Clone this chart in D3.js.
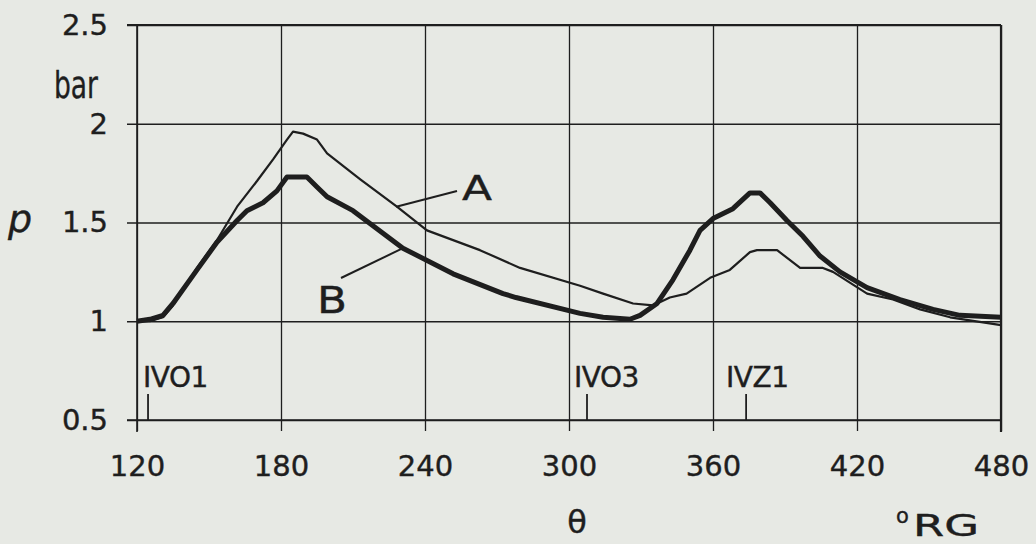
<!DOCTYPE html>
<html>
<head>
<meta charset="utf-8">
<script src="https://cdn.jsdelivr.net/npm/d3@7"></script>
<style>
  html, body { margin: 0; padding: 0; background: #e7e9e4; }
  svg { display: block; font-family: "DejaVu Sans", sans-serif; }
  svg text { stroke: #1e1e1e; stroke-width: 0.4px; }
</style>
</head>
<body>
<svg id="chart" width="1036" height="544"></svg>
<script>
// ---- data ----
const xTicks = [120, 180, 240, 300, 360, 420, 480];
const yTicks = [0.5, 1, 1.5, 2, 2.5];
const yTickLabels = ["0.5", "1", "1.5", "2", "2.5"];

const thetaA = [120, 125.4, 130.8, 135, 145, 153.3, 161.7, 170, 176.7, 182.5, 185, 189.2, 195, 199.2, 212.9, 228.3, 240.8, 262.9, 279.6, 304.6, 314.2, 326.7, 335, 342, 349, 358.8, 367, 375.4, 378.3, 386.7, 396.3, 405.8, 410, 424.2, 435, 446.3, 458.8, 480];
const pA     = [1.00, 1.00, 1.02, 1.08, 1.27, 1.41, 1.58, 1.71, 1.82, 1.92, 1.96, 1.95, 1.92, 1.85, 1.72, 1.58, 1.46, 1.36, 1.27, 1.18, 1.14, 1.09, 1.08, 1.12, 1.14, 1.22, 1.26, 1.35, 1.36, 1.36, 1.27, 1.27, 1.25, 1.14, 1.11, 1.06, 1.02, 0.98];

const thetaB = [120, 125.4, 130.8, 135, 145, 153.3, 161.7, 165.8, 172.5, 178.3, 182.5, 185, 190.8, 195, 199.2, 210, 230.8, 251.7, 272.5, 277.9, 304.6, 314.2, 325.4, 329.6, 336.7, 343.3, 350.4, 354.6, 360, 368.3, 375.4, 379.6, 383.8, 390.8, 397.5, 404.6, 412.9, 424.2, 437.9, 451.7, 462.9, 480];
const pB     = [1.00, 1.01, 1.03, 1.09, 1.26, 1.40, 1.51, 1.56, 1.60, 1.66, 1.73, 1.73, 1.73, 1.68, 1.63, 1.56, 1.37, 1.24, 1.14, 1.12, 1.04, 1.02, 1.01, 1.03, 1.09, 1.21, 1.36, 1.46, 1.52, 1.57, 1.65, 1.65, 1.60, 1.51, 1.43, 1.33, 1.25, 1.17, 1.11, 1.06, 1.03, 1.02];

const eventLabels = ["IVO1", "IVO3", "IVZ1"];
const eventTheta  = [124.6, 307.5, 373.8];

// ---- layout ----
const svg = d3.select("#chart");
svg.append("rect").attr("width", 1036).attr("height", 544).attr("fill", "#e7e9e4");

const x = d3.scaleLinear().domain([120, 480]).range([137, 1001]);
const y = d3.scaleLinear().domain([0.5, 2.5]).range([420, 25]);
const ink = "#1e1e1e";
const FONT = "DejaVu Sans, sans-serif";

// horizontal grid + y labels
const gy = svg.append("g")
  .attr("transform", "translate(127,0)")
  .call(d3.axisLeft(y).tickValues(yTicks)
    .tickFormat((d, i) => yTickLabels[i])
    .tickSizeInner(-(x(480) - 127)).tickSizeOuter(0).tickPadding(19));
gy.select(".domain").remove();
gy.selectAll("line").attr("stroke", ink).attr("stroke-width", 1.3);
gy.selectAll("text").attr("fill", ink).attr("font-size", 29).attr("font-family", FONT);

// vertical grid + x labels
const gx = svg.append("g")
  .attr("transform", "translate(0,431)")
  .call(d3.axisBottom(x).tickValues(xTicks)
    .tickSizeInner(-(431 - y(2.5))).tickSizeOuter(0).tickPadding(24));
gx.select(".domain").remove();
gx.selectAll("line").attr("stroke", ink).attr("stroke-width", 1.3);
gx.selectAll("text").attr("fill", ink).attr("font-size", 29).attr("font-family", FONT);

// frame (top & right heavier)
svg.append("line").attr("x1", 127).attr("x2", x(480)).attr("y1", y(2.5)).attr("y2", y(2.5))
  .attr("stroke", ink).attr("stroke-width", 2.2);
svg.append("line").attr("x1", x(480)).attr("x2", x(480)).attr("y1", y(2.5)).attr("y2", 432)
  .attr("stroke", ink).attr("stroke-width", 2.2);
svg.append("line").attr("x1", 127).attr("x2", x(480)).attr("y1", y(0.5)).attr("y2", y(0.5))
  .attr("stroke", ink).attr("stroke-width", 1.6);
svg.append("line").attr("x1", x(120)).attr("x2", x(120)).attr("y1", y(2.5)).attr("y2", 432)
  .attr("stroke", ink).attr("stroke-width", 1.6);

// curves
const line = d3.line().x(d => x(d[0])).y(d => y(d[1])).curve(d3.curveLinear);
svg.append("path").datum(d3.zip(thetaA, pA)).attr("d", line)
  .attr("fill", "none").attr("stroke", ink).attr("stroke-width", 2.2).attr("stroke-linejoin", "round");
svg.append("path").datum(d3.zip(thetaB, pB)).attr("d", line)
  .attr("fill", "none").attr("stroke", ink).attr("stroke-width", 5).attr("stroke-linejoin", "round");

// curve labels with leader lines
svg.append("line").attr("x1", x(228)).attr("y1", y(1.58)).attr("x2", 457).attr("y2", 191)
  .attr("stroke", ink).attr("stroke-width", 2);
svg.append("text").attr("x", 462).attr("y", 200).attr("font-size", 34).attr("fill", ink)
  .attr("textLength", 30).attr("lengthAdjust", "spacingAndGlyphs").text("A");
svg.append("line").attr("x1", x(230.8)).attr("y1", y(1.37)).attr("x2", 341).attr("y2", 278)
  .attr("stroke", ink).attr("stroke-width", 2);
svg.append("text").attr("x", 317).attr("y", 313).attr("font-size", 38).attr("fill", ink)
  .attr("textLength", 30).attr("lengthAdjust", "spacingAndGlyphs").text("B");

// event markers
const textOffsets = [-5, -13, -20];
eventLabels.forEach((lab, i) => {
  const ex = x(eventTheta[i]);
  svg.append("line").attr("x1", ex).attr("x2", ex).attr("y1", 394).attr("y2", y(0.5))
    .attr("stroke", ink).attr("stroke-width", 1.8);
  svg.append("text").attr("x", ex + textOffsets[i]).attr("y", 387)
    .attr("font-size", 28).attr("fill", ink).attr("letter-spacing", -0.5).text(lab);
});

// axis titles
svg.append("text").attr("x", 54).attr("y", 98).attr("font-size", 38)
  .attr("textLength", 44).attr("lengthAdjust", "spacingAndGlyphs").attr("fill", ink).text("bar");
svg.append("text").attr("x", 8).attr("y", 232).attr("font-size", 38)
  .attr("font-style", "italic").attr("fill", ink).text("p");
svg.append("text").attr("x", 577).attr("y", 533).attr("font-size", 32)
  .attr("text-anchor", "middle").attr("fill", ink).text("θ");
svg.append("text").attr("x", 896).attr("y", 523).attr("font-size", 21).attr("fill", ink).text("o");
svg.append("text").attr("x", 913).attr("y", 536).attr("font-size", 30).attr("fill", ink)
  .attr("textLength", 66).attr("lengthAdjust", "spacingAndGlyphs").text("RG");
</script>
</body>
</html>
